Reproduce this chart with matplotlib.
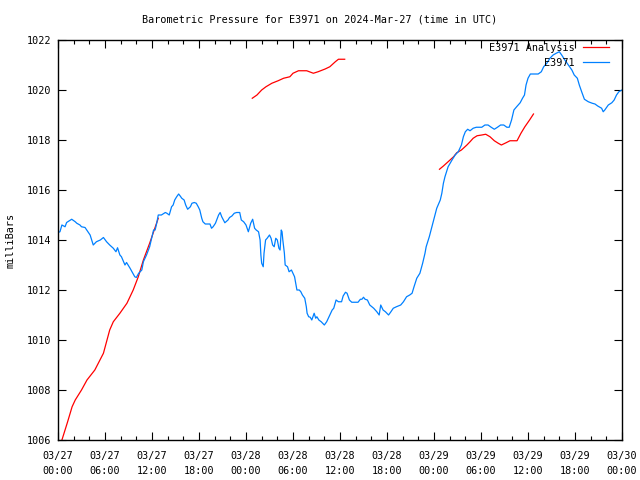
import numpy as np
import matplotlib
matplotlib.use("Agg")
import matplotlib.pyplot as plt

plt.rcParams['font.family'] = ['DejaVu Sans Mono']
plt.rcParams['font.size'] = 7.3

# hours since 2024-03-27 00:00 UTC, pressure in mb
obs_hours = [0.0, 0.25, 0.5, 0.9, 1.1, 1.75, 2.2, 2.4, 2.8, 3.0, 3.45, 4.1, 4.5, 4.9, 5.4, 5.8,
             6.2, 6.6, 7.06, 7.4, 7.6, 7.9, 8.1, 8.55, 8.75, 9.2, 9.8, 10.0, 10.3, 10.7, 10.9,
             11.3, 11.7, 12.0, 12.2, 12.4, 12.6, 12.8, 13.2, 13.7, 13.9, 14.2, 14.5, 14.7, 14.9,
             15.15, 15.4, 15.6, 15.8, 16.1, 16.3, 16.55, 16.9, 17.1, 17.4, 17.65, 17.9, 18.1,
             18.35, 18.5, 18.8, 19.4, 19.6, 19.8, 20.1, 20.5, 20.7, 20.9, 21.3, 21.7, 21.9,
             22.2, 22.5, 22.8, 23.2, 23.4, 23.7, 24.0, 24.3, 24.6, 24.85, 25.1, 25.3, 25.6,
             25.8, 25.9, 26.0, 26.2, 26.3, 26.5, 26.7, 27.0, 27.2, 27.4, 27.6, 27.8, 28.0,
             28.2, 28.35, 28.5, 28.6, 28.7, 28.9, 29.0, 29.3, 29.5, 29.8, 30.0, 30.2, 30.5,
             30.8, 31.0, 31.2, 31.5, 31.7, 31.8, 32.0, 32.2, 32.4, 32.7, 32.9, 33.05, 33.3,
             33.6, 34.0, 34.3, 34.6, 35.0, 35.2, 35.5, 35.8, 36.2, 36.4, 36.7, 36.9, 37.2,
             37.5, 37.9, 38.3, 38.6, 38.8, 39.0, 39.2, 39.5, 39.8, 40.3, 40.7, 41.0, 41.2,
             41.5, 41.8, 42.2, 42.5, 42.8, 43.2, 43.75, 44.1, 44.5, 44.9, 45.2, 45.45, 45.8,
             46.2, 46.55, 46.85, 47.0, 47.4, 47.9, 48.35, 48.8, 49.0, 49.2, 49.4, 49.8, 50.3,
             50.7, 51.1, 51.5, 51.75, 52.0, 52.3, 52.6, 53.0, 53.4, 54.1, 54.5, 54.9, 55.3,
             55.7, 56.1, 56.5, 56.9, 57.3, 57.6, 57.9, 58.2, 58.55, 59.0, 59.3, 59.55, 59.75,
             60.0, 60.3, 61.3, 61.7, 62.0, 62.4, 62.8, 63.2, 63.6, 64.0, 64.3, 64.7, 65.15,
             65.6, 65.9, 66.3, 66.55, 66.85, 67.2, 67.7, 68.2, 68.55, 68.9, 69.4, 69.6, 69.8,
             70.25, 70.7, 71.0, 71.3, 71.6, 72.0]
obs_mb = [1014.3, 1014.33, 1014.6, 1014.53, 1014.7, 1014.83, 1014.73, 1014.67, 1014.6, 1014.53,
          1014.5, 1014.2, 1013.8, 1013.93, 1014.0, 1014.1, 1013.93, 1013.8, 1013.67, 1013.53,
          1013.69, 1013.4, 1013.33, 1013.0, 1013.1, 1012.87, 1012.53, 1012.5, 1012.67, 1012.8,
          1013.13, 1013.4, 1013.73, 1014.13, 1014.4, 1014.4, 1014.67, 1015.0, 1015.0, 1015.1,
          1015.07, 1015.0, 1015.33, 1015.4, 1015.6, 1015.73, 1015.84, 1015.76, 1015.67, 1015.6,
          1015.4, 1015.23, 1015.33, 1015.47, 1015.5, 1015.47, 1015.33, 1015.2, 1014.87, 1014.73,
          1014.64, 1014.64, 1014.47, 1014.53, 1014.67, 1015.0, 1015.1, 1014.93, 1014.69, 1014.8,
          1014.9, 1014.96, 1015.07, 1015.1, 1015.1, 1014.8, 1014.73, 1014.6, 1014.33, 1014.67,
          1014.83, 1014.47, 1014.4, 1014.33, 1014.0, 1013.4, 1013.07, 1012.93, 1013.47, 1014.0,
          1014.07, 1014.2, 1014.07, 1013.8, 1013.73, 1014.07, 1014.0, 1013.67, 1013.6, 1014.4,
          1014.33, 1014.0, 1013.47, 1013.0, 1012.93, 1012.73, 1012.8, 1012.67, 1012.53, 1012.0,
          1012.0, 1011.93, 1011.8, 1011.67, 1011.33, 1011.07, 1010.93, 1010.91, 1010.8, 1011.07,
          1010.87, 1010.93, 1010.8, 1010.73, 1010.6, 1010.73, 1010.93, 1011.2, 1011.27, 1011.6,
          1011.53, 1011.53, 1011.76, 1011.91, 1011.87, 1011.6, 1011.51, 1011.51, 1011.51,
          1011.63, 1011.63, 1011.71, 1011.63, 1011.6, 1011.4, 1011.27, 1011.13, 1011.0, 1011.4,
          1011.2, 1011.13, 1011.0, 1011.13, 1011.27, 1011.33, 1011.4, 1011.53, 1011.73, 1011.8,
          1011.87, 1012.13, 1012.47, 1012.67, 1013.07, 1013.47, 1013.73, 1014.13, 1014.73,
          1015.27, 1015.6, 1015.87, 1016.27, 1016.53, 1016.93, 1017.2, 1017.4, 1017.53, 1017.8,
          1018.13, 1018.33, 1018.43, 1018.37, 1018.47, 1018.51, 1018.51, 1018.6, 1018.6,
          1018.51, 1018.43, 1018.51, 1018.6, 1018.6, 1018.51, 1018.51, 1018.8, 1019.2, 1019.33,
          1019.49, 1019.67, 1019.8, 1020.2, 1020.47, 1020.64, 1020.64, 1020.73, 1020.93,
          1021.07, 1021.27, 1021.4, 1021.47, 1021.53, 1021.4, 1021.2, 1021.0, 1020.8, 1020.6,
          1020.47, 1020.2, 1019.93, 1019.63, 1019.53, 1019.47, 1019.44, 1019.36, 1019.27,
          1019.13, 1019.2, 1019.4, 1019.49, 1019.6, 1019.8, 1019.93, 1020.0]

# analysis runs (three separate pieces)
ana1_hours = [0.45, 1.2, 1.8, 2.2, 3.0, 3.7, 4.7, 5.8, 6.6, 7.06, 7.9, 8.8, 9.6, 10.25, 10.9, 11.7, 12.8]
ana1_mb = [1005.95, 1006.7, 1007.33, 1007.6, 1008.0, 1008.4, 1008.8, 1009.47, 1010.4, 1010.73,
           1011.07, 1011.47, 1012.0, 1012.53, 1013.2, 1013.87, 1014.87]
ana2_hours = [24.8, 25.4, 26.0, 26.55, 27.3, 28.1, 28.8, 29.6, 30.0, 30.7, 31.75, 32.6, 33.2,
              34.1, 34.7, 35.4, 35.8, 36.6]
ana2_mb = [1019.67, 1019.8, 1020.0, 1020.13, 1020.27, 1020.37, 1020.47, 1020.53, 1020.67,
           1020.77, 1020.77, 1020.67, 1020.73, 1020.84, 1020.93, 1021.13, 1021.23, 1021.23]
ana3_hours = [48.7, 49.2, 49.8, 50.5, 50.9, 51.5, 52.2, 52.6, 53.0, 53.5, 54.1, 54.6, 55.15,
              55.7, 56.2, 56.6, 57.2, 57.7, 58.6, 59.1, 59.6, 60.2, 60.7]
ana3_mb = [1016.83, 1016.96, 1017.13, 1017.33, 1017.49, 1017.6, 1017.8, 1017.93, 1018.07,
           1018.17, 1018.2, 1018.23, 1018.13, 1017.97, 1017.87, 1017.8, 1017.89, 1017.97,
           1017.97, 1018.27, 1018.53, 1018.8, 1019.04]

tick_labels = ['03/27\n00:00', '03/27\n06:00', '03/27\n12:00', '03/27\n18:00',
               '03/28\n00:00', '03/28\n06:00', '03/28\n12:00', '03/28\n18:00',
               '03/29\n00:00', '03/29\n06:00', '03/29\n12:00', '03/29\n18:00',
               '03/30\n00:00']

ana_hours = ana1_hours + [np.nan] + ana2_hours + [np.nan] + ana3_hours
ana_mb = ana1_mb + [np.nan] + ana2_mb + [np.nan] + ana3_mb

fig = plt.figure(figsize=(6.4, 4.8), dpi=100)
ax = fig.add_axes([58/640, 40/480, 564/640, 400/480])

ax.plot(ana_hours, ana_mb, color='#ff0000', lw=0.9, label='E3971 Analysis')
ax.plot(obs_hours, obs_mb, color='#0080ff', lw=0.9, label='E3971')

ax.set_xlim(0, 72)
ax.set_ylim(1006, 1022)
ax.set_xticks(np.arange(0, 73, 6))
ax.set_xticklabels(tick_labels, linespacing=1.55)
ax.set_xticks(np.arange(0, 73, 2), minor=True)
ax.set_yticks(np.arange(1006, 1023, 2))
ax.tick_params(which='both', direction='in', top=True, right=True, width=0.8)
ax.tick_params(which='major', length=6)
ax.tick_params(axis='x', which='major', pad=8)
ax.tick_params(axis='y', which='major', pad=5)
ax.tick_params(which='minor', length=3)
for s in ax.spines.values():
    s.set_linewidth(1.0)

ax.set_ylabel('milliBars', labelpad=8)
fig.text(0.5, 1 - 20/480, 'Barometric Pressure for E3971 on 2024-Mar-27 (time in UTC)',
         ha='center', va='center')

ax.legend(loc='upper right', bbox_to_anchor=((609 - 58) / 564, (440 - 43) / 400),
          frameon=False, markerfirst=False, handlelength=2.6,
          borderaxespad=0, borderpad=0, labelspacing=0.45, handletextpad=0.8)

fig.savefig('out.png', dpi=100)
